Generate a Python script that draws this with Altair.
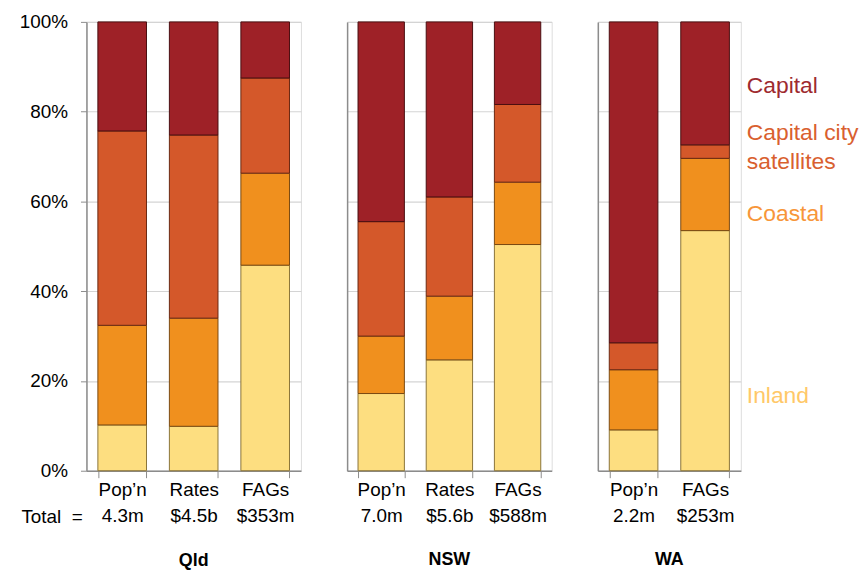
import altair as alt
import pandas as pd

# ---- data (percent shares) ----
series = ["Inland", "Coastal", "Capital city satellites", "Capital"]
fill_colors = ["#FDDE80", "#F0901E", "#D4582A", "#9E2127"]
stroke_colors = ["#8A7438", "#7A4A12", "#6A2812", "#4A0E10"]
text_colors = ["#FFC868", "#F7963A", "#D9602F", "#9E2A2F"]

qld_measures = ["Pop’n", "Rates", "FAGs"]
qld_totals = ["4.3m", "$4.5b", "$353m"]
qld_inland = [10.2, 9.9, 45.8]
qld_coastal = [22.2, 24.1, 20.5]
qld_satellites = [43.3, 40.8, 21.2]
qld_capital = [24.3, 25.2, 12.5]

nsw_measures = ["Pop’n", "Rates", "FAGs"]
nsw_totals = ["7.0m", "$5.6b", "$588m"]
nsw_inland = [17.2, 24.7, 50.4]
nsw_coastal = [12.8, 14.2, 13.9]
nsw_satellites = [25.5, 22.1, 17.3]
nsw_capital = [44.5, 39.0, 18.4]

wa_measures = ["Pop’n", "FAGs"]
wa_totals = ["2.2m", "$253m"]
wa_inland = [9.1, 53.5]
wa_coastal = [13.4, 16.1]
wa_satellites = [6.0, 3.0]
wa_capital = [71.5, 27.4]

FONT = "Liberation Sans"


def build_df(measures, totals, inland, coastal, satellites, capital):
    rows = []
    for i, (m, t) in enumerate(zip(measures, totals)):
        cat = m + "|" + t
        for rank, (s, vals) in enumerate(zip(series, [inland, coastal, satellites, capital])):
            rows.append({"cat": cat, "series": s, "rank": rank, "value": vals[i]})
    return pd.DataFrame(rows), [m + "|" + t for m, t in zip(measures, totals)]


def panel(df, cats, width, title, first):
    x_axis = alt.Axis(
        labelExpr="datum.value ? split(datum.value, '|') : ''",
        labelFontSize=19,
        labelFont=FONT,
        labelColor="#000000",
        labelLineHeight=26,
        labelPadding=3,
        labelAngle=0,
        tickBand="extent",
        tickSize=7,
        tickColor="#8c8c8c",
        domainColor="#8c8c8c",
        domainWidth=1.5,
        grid=False,
        title="Total\u00a0\u00a0=" if first else None,
        **(dict(titleX=-66, titleY=52, titleAlign="left", titleBaseline="alphabetic",
                titleFontSize=19, titleFontWeight="normal", titleFont=FONT,
                titleColor="#000000", titleAnchor="start") if first else {}),
    )
    if first:
        y_axis = alt.Axis(values=[0, 0.2, 0.4, 0.6, 0.8, 1.0], format=".0%", labelFontSize=19,
                          labelFont=FONT, labelColor="#000000", labelPadding=13,
                          tickSize=6, tickColor="#8c8c8c", domainColor="#8c8c8c",
                          domainWidth=1.5, gridColor="#d4d4d4", gridWidth=1.2, title=None)
    else:
        y_axis = alt.Axis(values=[0, 0.2, 0.4, 0.6, 0.8, 1.0], labels=False, ticks=False,
                          domainColor="#8c8c8c", domainWidth=1.5, gridColor="#d4d4d4",
                          gridWidth=1.2, title=None)

    bars = alt.Chart(df).mark_bar(strokeWidth=1).encode(
        x=alt.X("cat:N", sort=cats, scale=alt.Scale(paddingInner=0.32, paddingOuter=0.16), axis=x_axis),
        y=alt.Y("value:Q", stack="normalize", scale=alt.Scale(domain=[0, 1], nice=False), axis=y_axis),
        color=alt.Color("series:N", scale=alt.Scale(domain=series, range=fill_colors), legend=None),
        stroke=alt.Stroke("series:N", scale=alt.Scale(domain=series, range=stroke_colors), legend=None),
        order=alt.Order("rank:Q"),
    )
    return bars, dict(width=width, height=452,
                      title=alt.TitleParams(title, orient="bottom", fontSize=18, fontWeight="bold",
                                            font=FONT, color="#000000", offset=26, anchor="middle"))


qld_df, qld_cats = build_df(qld_measures, qld_totals, qld_inland, qld_coastal, qld_satellites, qld_capital)
nsw_df, nsw_cats = build_df(nsw_measures, nsw_totals, nsw_inland, nsw_coastal, nsw_satellites, nsw_capital)
wa_df, wa_cats = build_df(wa_measures, wa_totals, wa_inland, wa_coastal, wa_satellites, wa_capital)

qld_bars, qld_props = panel(qld_df, qld_cats, 216, "Qld", True)
nsw_bars, nsw_props = panel(nsw_df, nsw_cats, 206, "NSW", False)
wa_bars, wa_props = panel(wa_df, wa_cats, 144, "WA", False)

# legend labels at the right of the WA panel
legend_texts = ["Inland", "Coastal", "Capital city\nsatellites", "Capital"]
legend_layers = []
for txt, col, ypx in zip(legend_texts, text_colors, [384, 201, 119, 72]):
    legend_layers.append(
        alt.Chart(pd.DataFrame({"t": [txt]})).mark_text(
            align="left", baseline="alphabetic", fontSize=23, font=FONT, color=col,
            lineBreak="\n", lineHeight=29
        ).encode(text="t:N", x=alt.value(150), y=alt.value(ypx))
    )

qld = qld_bars.properties(**qld_props)
nsw = nsw_bars.properties(**nsw_props)
wa = alt.layer(wa_bars, *legend_layers).properties(**wa_props)

chart = alt.hconcat(qld, nsw, wa, spacing=44.5).properties(
    padding={"left": 10, "top": 2, "right": 0, "bottom": 0}
).configure_view(stroke=None).configure(font=FONT)

chart.save("out.html", embed_options={"renderer": "svg", "actions": False})
